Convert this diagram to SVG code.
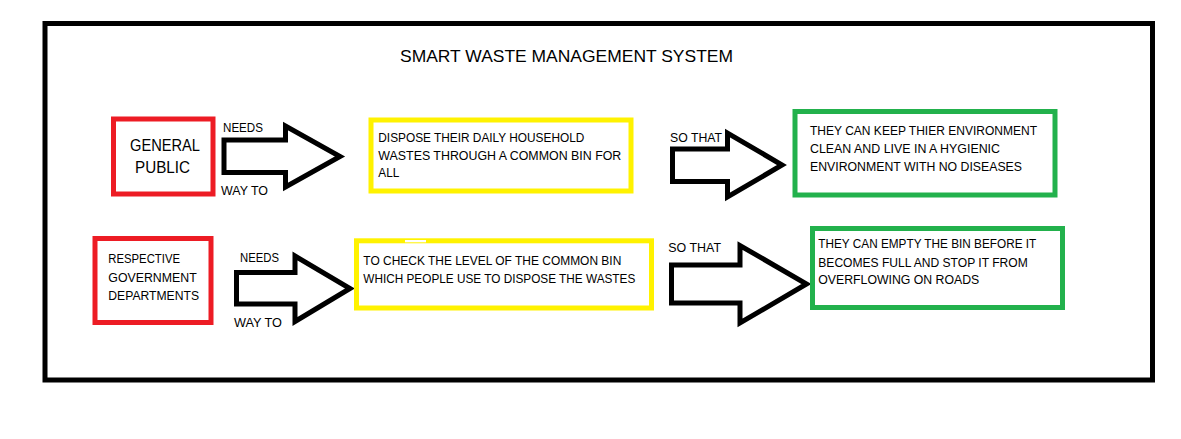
<svg xmlns="http://www.w3.org/2000/svg" width="1181" height="439" viewBox="0 0 1181 439">
  <style>
    text { font-family: "Liberation Sans", Arial, sans-serif; fill: #000; }
    .t { font-size: 12px; }
    .lbl { font-size: 12.5px; }
    .big { font-size: 16.5px; }
    .red { fill: #fff; stroke: #ed1c24; stroke-width: 5; }
    .yel { fill: #fff; stroke: #fff200; stroke-width: 5; }
    .grn { fill: #fff; stroke: #22b14c; stroke-width: 5; }
    .arr { fill: #fff; stroke: #000; stroke-width: 5; stroke-linejoin: miter; }
  </style>
  <rect width="1181" height="439" fill="#fff"/>
  <rect id="frame" x="45" y="23.5" width="1107.5" height="356.5" fill="#fff" stroke="#000" stroke-width="5"/>
  <text id="title" class="big" x="400" y="62" textLength="333" lengthAdjust="spacingAndGlyphs">SMART WASTE MANAGEMENT SYSTEM</text>

  <g id="connectors">
    <g id="arrow1">
      <polygon class="arr" points="224,140 285.5,140 285.5,126 340,156.5 285.5,187 285.5,172.5 224,172.5"/>
      <text class="lbl" x="223" y="132" textLength="40" lengthAdjust="spacingAndGlyphs">NEEDS</text>
      <text class="lbl" x="221" y="195" textLength="47" lengthAdjust="spacingAndGlyphs">WAY TO</text>
    </g>
    <g id="arrow2">
      <polygon class="arr" points="672.5,149 727.5,149 727.5,133 782,165 727.5,197 727.5,181.5 672.5,181.5"/>
      <text class="lbl" x="670" y="141.7" textLength="52" lengthAdjust="spacingAndGlyphs">SO THAT</text>
    </g>
    <g id="arrow3">
      <polygon class="arr" points="236.5,272.5 295,272.5 295,256 350,288.5 295,321.5 295,304 236.5,304"/>
      <text class="lbl" x="240" y="262.3" textLength="39" lengthAdjust="spacingAndGlyphs">NEEDS</text>
      <text class="lbl" x="234" y="326.7" textLength="48" lengthAdjust="spacingAndGlyphs">WAY TO</text>
    </g>
    <g id="arrow4">
      <polygon class="arr" points="671.5,265 740,265 740,245.5 806.5,284 740,323 740,303 671.5,303"/>
      <text class="lbl" x="668.3" y="251.7" textLength="52.7" lengthAdjust="spacingAndGlyphs">SO THAT</text>
    </g>
  </g>

  <g id="general-public">
    <rect class="red" x="113.5" y="119" width="99.5" height="75"/>
    <text class="big" x="130" y="151" textLength="70" lengthAdjust="spacingAndGlyphs">GENERAL</text>
    <text class="big" x="135" y="173" textLength="55" lengthAdjust="spacingAndGlyphs">PUBLIC</text>
  </g>

  <g id="dispose">
    <rect class="yel" x="371" y="120" width="260" height="71"/>
    <text class="t" x="378.3" y="141.7" textLength="206" lengthAdjust="spacingAndGlyphs">DISPOSE THEIR DAILY HOUSEHOLD</text>
    <text class="t" x="378.3" y="160" textLength="243" lengthAdjust="spacingAndGlyphs">WASTES THROUGH A COMMON BIN FOR</text>
    <text class="t" x="378.3" y="177.3" textLength="21" lengthAdjust="spacingAndGlyphs">ALL</text>
  </g>

  <g id="clean-environment">
    <rect class="grn" x="795" y="111.5" width="260" height="83.5"/>
    <text class="t" x="810" y="135" textLength="227" lengthAdjust="spacingAndGlyphs">THEY CAN KEEP THIER ENVIRONMENT</text>
    <text class="t" x="810" y="153.3" textLength="190" lengthAdjust="spacingAndGlyphs">CLEAN AND LIVE IN A HYGIENIC</text>
    <text class="t" x="810" y="171" textLength="212" lengthAdjust="spacingAndGlyphs">ENVIRONMENT WITH NO DISEASES</text>
  </g>

  <g id="government">
    <rect class="red" x="95" y="238.5" width="116" height="84"/>
    <text class="t" x="108.3" y="263.3" textLength="71.7" lengthAdjust="spacingAndGlyphs">RESPECTIVE</text>
    <text class="t" x="108.3" y="281.7" textLength="88.4" lengthAdjust="spacingAndGlyphs">GOVERNMENT</text>
    <text class="t" x="108.3" y="300" textLength="90.7" lengthAdjust="spacingAndGlyphs">DEPARTMENTS</text>
  </g>

  <g id="check-level">
    <rect class="yel" x="356.5" y="240.8" width="295" height="67.2"/>
    <rect x="405" y="240" width="21" height="2.3" fill="#fff"/>
    <text class="t" x="363.3" y="265" textLength="258" lengthAdjust="spacingAndGlyphs">TO CHECK THE LEVEL OF THE COMMON BIN</text>
    <text class="t" x="363.3" y="283.3" textLength="272" lengthAdjust="spacingAndGlyphs">WHICH PEOPLE USE TO DISPOSE THE WASTES</text>
  </g>

  <g id="empty-bin">
    <rect class="grn" x="812.5" y="228.5" width="250" height="79"/>
    <text class="t" x="818.3" y="248.3" textLength="218" lengthAdjust="spacingAndGlyphs">THEY CAN EMPTY THE BIN BEFORE IT</text>
    <text class="t" x="818.3" y="266.7" textLength="209.4" lengthAdjust="spacingAndGlyphs">BECOMES FULL AND STOP IT FROM</text>
    <text class="t" x="818.3" y="284.3" textLength="161" lengthAdjust="spacingAndGlyphs">OVERFLOWING ON ROADS</text>
  </g>
</svg>
